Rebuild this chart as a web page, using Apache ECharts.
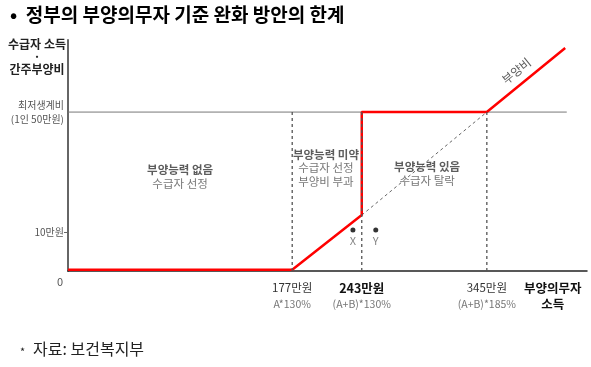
<!DOCTYPE html>
<html><head><meta charset="utf-8">
<script src="https://cdn.jsdelivr.net/npm/echarts@6/dist/echarts.min.js"></script>
<style>html,body{margin:0;padding:0;background:#fff}#c{width:591px;height:367px}</style>
</head><body><div id="c"></div>
<script>
// Schematic chart: x and y are in schematic units (0-100), not proportional to won.
const xTickValues = [43.2, 56.6, 80.7, 93.4];
const xTickMain = ['177만원', '243만원', '345만원', '부양의무자'];
const xTickSub = ['A*130%', '(A+B)*130%', '(A+B)*185%', '소득'];
const xTickBold = [false, true, false, true];
const yTickValues = [16.9, 68.8];
const yTickLabels = ['10만원', '최저생계비\n(1인 50만원)'];
const minLivingLevel = 68.8;
const dependencyLine = [[0, 0.5], [43.2, 0.5], [56.6, 24.2], [56.6, 68.8], [80.7, 68.8], [95.8, 96.5]];
const minLivingLine = [[0, 68.8], [96.1, 68.8]];
const thresholdXs = [43.2, 56.6, 80.7];
const extendedSlope = [[56.6, 24.2], [80.7, 68.8]];
const householdPoints = [[54.9, 17.7, 'X'], [59.3, 17.7, 'Y']];
const regionNotes = [
  { pos: [21.6, 40.8], title: '부양능력 없음', lines: ['수급자 선정'] },
  { pos: [49.7, 44.6], title: '부양능력 미약', lines: ['수급자 선정', '부양비 부과'] },
  { pos: [69.2, 42.2], title: '부양능력 있음', lines: ['수급자 탈락'] }
];
const lineNote = { pos: [86.4, 86.6], text: '부양비' };

const FONT = '"Noto Sans CJK KR", "Noto Sans", sans-serif';
const chart = echarts.init(document.getElementById('c'));

const series = [];
series.push({ type: 'line', data: minLivingLine, symbol: 'none', silent: true,
  lineStyle: { color: '#777', width: 1 }, z: 1 });
series.push({ type: 'line', data: dependencyLine, symbol: 'none', silent: true,
  lineStyle: { color: '#ff0000', width: 2.5 }, z: 3 });
thresholdXs.forEach(x => series.push({ type: 'line', data: [[x, 0], [x, minLivingLevel]], symbol: 'none', silent: true,
  lineStyle: { color: '#555', width: 1.3, type: [3, 3] }, z: 4 }));
series.push({ type: 'line', data: extendedSlope, symbol: 'none', silent: true,
  lineStyle: { color: '#666', width: 1, type: [3, 3] }, z: 2 });
series.push({ type: 'scatter', data: householdPoints.map(p => [p[0], p[1], p[2]]), symbol: 'circle', symbolSize: 5,
  itemStyle: { color: '#000' }, silent: true, z: 5,
  label: { show: true, position: 'bottom', distance: 3, formatter: p => p.value[2], color: '#666', fontSize: 11, fontFamily: FONT } });
series.push({ type: 'scatter', symbolSize: 0, silent: true, z: 6,
  data: regionNotes.map(n => ({ value: n.pos })),
  label: { show: true, position: 'inside', fontFamily: FONT, lineHeight: 13,
    formatter: p => '{t|' + regionNotes[p.dataIndex].title + '}\n' + regionNotes[p.dataIndex].lines.map(l => '{n|' + l + '}').join('\n'),
    rich: { t: { fontSize: 11.5, color: '#333', fontWeight: 'bold', fontFamily: FONT, lineHeight: 13.5 },
            n: { fontSize: 11.5, color: '#555', fontFamily: FONT, lineHeight: 13.5 } } } });
series.push({ type: 'scatter', symbolSize: 0, silent: true, z: 6, data: [lineNote.pos],
  label: { show: true, position: 'inside', rotate: 39, formatter: lineNote.text, fontSize: 12, color: '#333', fontFamily: FONT } });

chart.setOption({
  animation: false,
  grid: { left: 68, right: 4, top: 40, bottom: 96 },
  xAxis: { type: 'value', min: 0, max: 100,
    axisLine: { show: true, lineStyle: { color: '#222', width: 1.5 } },
    axisTick: { show: false }, splitLine: { show: false },
    axisLabel: { show: true, customValues: xTickValues, margin: 9, lineHeight: 16,
      formatter: v => { const i = xTickValues.findIndex(t => Math.abs(t - v) < 0.01); if (i < 0) return '';
        return (xTickBold[i] ? '{mb|' : '{m|') + xTickMain[i] + '}\n' + (i === 3 ? '{mb|' : '{s|') + xTickSub[i] + '}'; },
      rich: { m: { fontSize: 11.5, color: '#333', fontFamily: FONT, lineHeight: 16 },
              mb: { fontSize: 12.5, color: '#111', fontWeight: 'bold', fontFamily: FONT, lineHeight: 16 },
              s: { fontSize: 10.5, color: '#777', fontFamily: FONT, lineHeight: 16 } } } },
  yAxis: { type: 'value', min: 0, max: 100,
    axisLine: { show: true, lineStyle: { color: '#666', width: 2 } },
    axisTick: { show: true, customValues: [yTickValues[0]], length: 4, lineStyle: { color: '#666' } },
    splitLine: { show: false },
    axisLabel: { show: true, customValues: yTickValues, margin: 4, color: '#555', fontSize: 10, fontFamily: FONT, lineHeight: 14,
      formatter: v => { const i = yTickValues.findIndex(t => Math.abs(t - v) < 0.01); return i < 0 ? '' : yTickLabels[i]; } } },
  graphic: [
    { type: 'text', left: 10, top: 5, style: { text: '•  정부의 부양의무자 기준 완화 방안의 한계', font: 'bold 19px ' + FONT, fill: '#000' } },
    { type: 'text', x: 37, y: 38, style: { text: '수급자 소득\n·\n간주부양비', textAlign: 'center', font: 'bold 12px ' + FONT, lineHeight: 12.5, fill: '#222' } },
    { type: 'text', x: 60, y: 276, style: { text: '0', textAlign: 'center', font: '11px ' + FONT, fill: '#555' } },
    { type: 'text', x: 20, y: 346, style: { text: '*', font: '11px ' + FONT, fill: '#222' } },
    { type: 'text', x: 33, y: 341, style: { text: '자료: 보건복지부', font: '16px ' + FONT, fill: '#222' } }
  ],
  series: series
});
</script></body></html>
